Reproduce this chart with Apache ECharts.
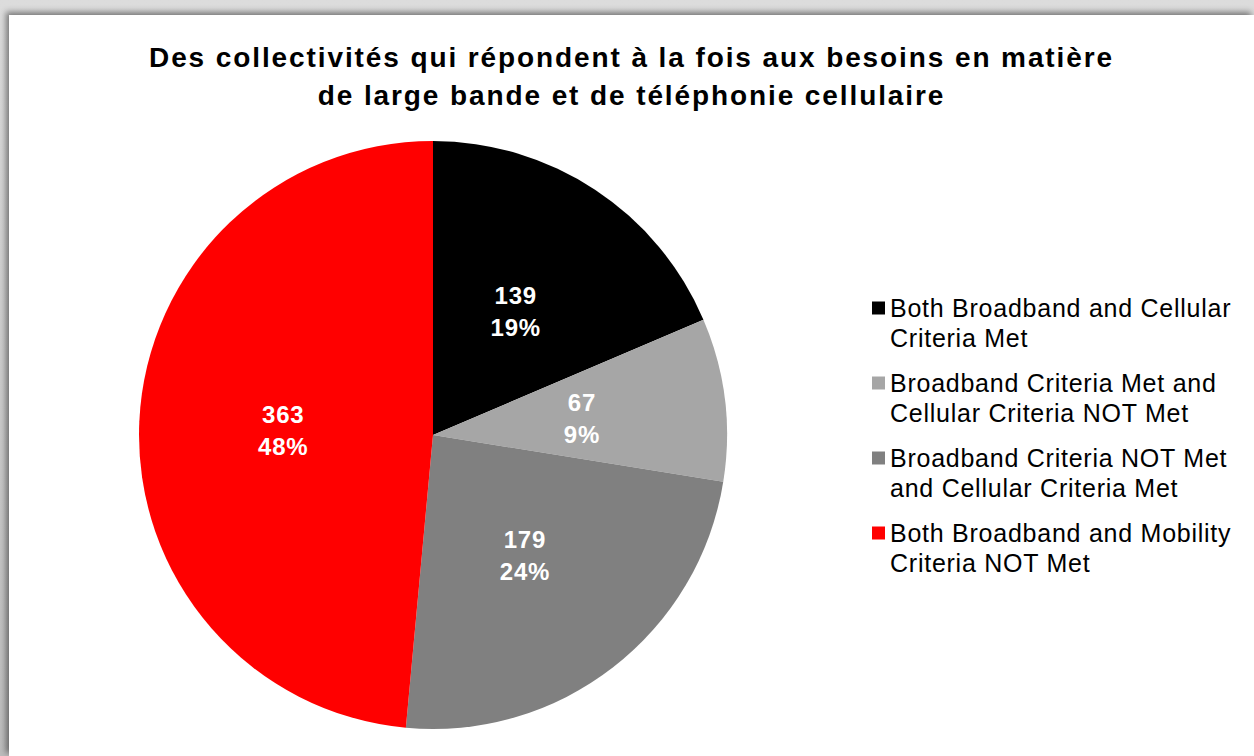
<!DOCTYPE html>
<html>
<head>
<meta charset="utf-8">
<script src="https://cdn.jsdelivr.net/npm/echarts@6/dist/echarts.min.js"></script>
<style>
  html, body { margin: 0; padding: 0; width: 1254px; height: 756px; overflow: hidden; }
  body { background: linear-gradient(#dcdcdc, #bcbcbc); }
  #chart {
    position: absolute; left: 9px; top: 15px; width: 1245px; height: 741px;
    background: #fff;
    box-shadow: -3px -3px 6px rgba(0,0,0,0.45);
  }
  /* 原图文字比 Arial 略宽，用字距补一点 */
  #chart text[style*="28px"] { letter-spacing: 1.9px; }
  #chart text[style*="25px"] { letter-spacing: 0.75px; }
  #chart text[style*="24px"] { letter-spacing: 0.7px; }
</style>
</head>
<body>
<div id="chart"></div>
<script>
// 数据
const categories = [
  'Both Broadband and Cellular\nCriteria Met',
  'Broadband Criteria Met and\nCellular Criteria NOT Met',
  'Broadband Criteria NOT Met\nand Cellular Criteria Met',
  'Both Broadband and Mobility\nCriteria NOT Met'
];
const values = [139, 67, 179, 363];
const colors = ['#000000', '#a6a6a6', '#808080', '#ff0000'];
const titleText = 'Des collectivités qui répondent à la fois aux besoins en matière\nde large bande et de téléphonie cellulaire';

const font = "'Liberation Sans', Arial, sans-serif";
const chart = echarts.init(document.getElementById('chart'), null, { renderer: 'svg' });

chart.setOption({
  backgroundColor: 'transparent',
  animation: false,
  title: {
    text: titleText,
    left: 'center',
    top: 23,
    padding: 0,
    textStyle: {
      fontFamily: font, fontSize: 28, fontWeight: 'bold',
      color: '#000', lineHeight: 38
    }
  },
  legend: {
    orient: 'vertical',
    left: 863,
    top: 248,
    padding: 0,
    itemWidth: 13,
    itemHeight: 13,
    itemGap: -15,
    icon: 'rect',
    data: categories,
    // 图例方块对齐第一行：前面加一个空行
    formatter: name => '\n' + name,
    textStyle: {
      fontFamily: font, fontSize: 25, color: '#000', lineHeight: 30
    }
  },
  series: [{
    type: 'pie',
    center: [424, 420],
    radius: 294,
    startAngle: 90,
    clockwise: true,
    percentPrecision: 0,
    emphasis: { disabled: true },
    label: {
      position: 'inside',
      formatter: '{c}\n{d}%',
      color: '#fff',
      fontFamily: font,
      fontSize: 24,
      fontWeight: 'bold',
      lineHeight: 32,
      offset: [0, 2]
    },
    labelLine: { show: false },
    itemStyle: { borderWidth: 0 },
    data: categories.map((name, i) => ({
      name, value: values[i], itemStyle: { color: colors[i] }
    }))
  }]
});
</script>
</body>
</html>
